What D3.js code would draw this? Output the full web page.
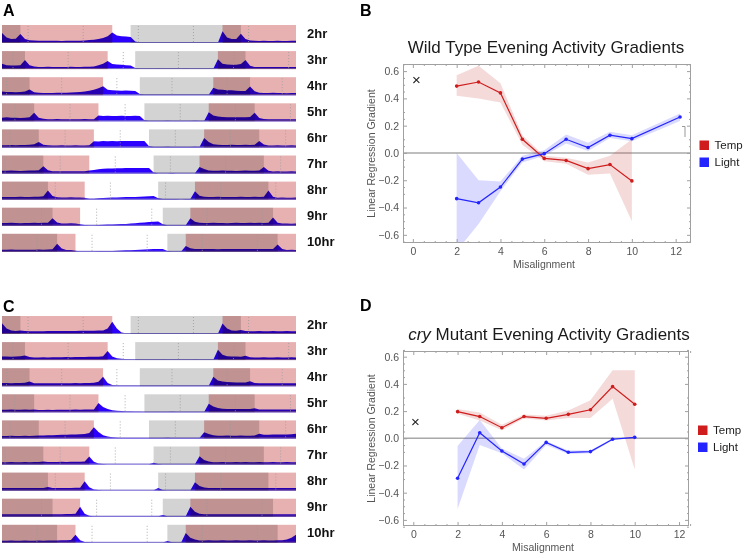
<!DOCTYPE html>
<html>
<head>
<meta charset="utf-8">
<script src="https://cdn.jsdelivr.net/npm/d3@7"></script>
<style>
body { margin: 0; background: #fff; }
svg { display: block; font-family: "Liberation Sans", Arial, sans-serif; }
</style>
</head>
<body>
<svg id="fig" width="744" height="558"></svg>
<script>
// ---- actogram data (activity in % of row height, every 0.5 h from 0 to 32 h) ----
const misalign = [2, 3, 4, 5, 6, 7, 8, 9, 10];
const rowLabels = ["2hr", "3hr", "4hr", "5hr", "6hr", "7hr", "8hr", "9hr", "10hr"];
const gridOffsets = [2.84, 1.2, 0.5, 1.4, 0.87, 0.33, 5.8, 4.3, 3.8];

const wtActivity = [
  [55,30,22,24,50,22,15,14,13,12, 12,13,12,11,12,12,13,13,14,16, 18,22,28,38,58,42,38,36,34,8, 3, 2,2,3,2,2,2,2,3,2,2,2,2,2,3,2,2,2, 65,30,22,22,52,22,14,12, 11,12,11,11,12,11,11,12,12],
  [30,22,20,20,22,50,22,15, 12,12,13,12,11,12,12,13,12,12,13,13, 15,22,30,45,28,25,24,22,20,6,2, 2,2,2,3,2,2,2,2,2,3,2,2,2,2,2,2, 55,30,25,24,24,28,50,18,12, 11,12,11,11,12,11,12,11,12],
  [20,18,18,17,18,20,32,16,13,12, 12,12,13,13,14,15,16,18,21,25, 30,38,50,30,27,26,25,26,25,24, 6, 2,2,2,2,3,2,2,2,2,2,3,2,2,2,2, 42,32,30,28,27,25,24,24,48,22,14, 12,12,13,12,12,11,12,12],
  [20,22,20,20,19,20,22,48,20,14, 12,12,13,12,12,11,12,12,13,12,12, 32,30,31,30,30,31,30,30,31,30,6, 2,2,2,2,3,2,2,2,2,2,3,2,2, 50,32,26,24,23,22,22,22,22,24,48,18,13, 12,12,11,12,12,11,12],
  [12,12,13,12,13,14,15,17,30,15,12, 11,11,12,11,11,12,11,11,12, 34,33,35,34,35,34,35,36,35,36,35,35,6, 2,2,2,3,2,2,2,2,2,3,2, 52,30,18,15, 14,14,15,14,14,15,14,15, 36,16, 11,11,12,11,11,12,11],
  [15,15,16,15,14,15,16,16,18, 40,18,12, 12,12,13,12,12,12,13, 16,20,24,26,28,28,29,29,30,30,30,31,30,30,6, 2,2,2,3,2,2,2,2,2, 36,25,17, 15,15,16,15,15,14,15,16,15,15,16, 36,15, 11,12,11,11,12,11],
  [15,15,14,15,16,15,15,16,16,18, 50,20,13, 12,12,13,12,12, 10,5,5,7,9,10,11,12,13,14,14,15,16,17,18,20,8, 3,3,3,3,2,3,3, 46,22,16, 15,15,16,15,15,14,15,16,15,15,16,15,16, 50,16, 10,11,10,10,11],
  [15,15,16,15,14,15,15,16,15,16,17, 42,18, 12,12,13,12, 8,4,3,3,4,5,6,7,8,9,10,12,14,16,18,20,22,24,8, 2,2,2,3,2, 42,22,16, 15,15,16,15,15,14,15,16,15,15,16,15,16,15,16, 45,16, 12,12,11,12],
  [12,12,13,12,12,11,12,12,13,12,13,14, 45,18,10,10, 6,3,3,3,3,4,4,5,5,6,7,8,9,10,12,13,14,15,15,16,5, 2,2,2, 32,20, 15,15,16,15,15,14,15,16,15,15,16,15,16,15,16,15,15,16, 40,15, 10,11,10]
];

const cryActivity = [
  [60,30,20,17,20,16, 15,15,15,15,16,16,16,16,17,17,17,18,18,18, 18,19,20,30,68,30,8,4,2, 2,2,2,2,2,3,2,2,2,2,2,2,3,2,2,2,2,2,2, 58,30,20,18,22,16, 15,15,16,15,15,16,15,15,16,15,15],
  [20,20,19,20,21, 26,17, 15,15,16,15,16,16,16,17,16,17,17,17,18,18,18, 22,50,20,10,7,5,4,2, 2,2,2,2,2,3,2,2,2,2,2,2,3,2,2,2,2, 58,30,22,20,20,19,24,16, 15,15,16,15,15,16,15,15,16,15],
  [18,18,17,18,18,19, 26,17, 16,16,16,17,16,17,17,17,18,17,18,18,19, 25,52,18,6,4, 3,3,3,3,3, 2,2,2,2,2,2,3,2,2,2,2,2,2,3,2, 52,32,26,24,22,21,20,20,28,18, 16,16,17,16,16,17,16,16,17],
  [14,14,15,14,14,15,14, 16, 13,13,14,13,14,14,14,14,15,14,15,15,15, 52,30,18,12,9,7,5,4,3,3,2, 2,2,2,2,2,3,2,2,2,2,2,2,2, 48,32,24,20,19, 18,18,18,18,18, 22,16, 15,15,16,15,15,16,15,16],
  [14,14,15,14,14,15,14,15, 16, 16,17,18,19,20,20,21,22,23,24, 30,62,35,18,10,6,4, 2,2,2,2,2,2,2, 2,2,2,3,2,2,2,2,2,2,2, 34,24,18, 15,15,16,15,15,16,15,15,16, 26, 20,20,21,21,22,22,23,26],
  [13,13,14,13,13,14,13,14,14,16,14,14,14,15,14,15,15,15,16, 45,15,6,3, 2,2,2,2,2,2,2,2,2,2, 10,3, 2,2,2,2,2,2,2,2, 46,25,16, 13,13,14,13,13,14,13,14,13,13,14,13,13,14,13,13,14,13,13],
  [14,14,15,14,14,14,15,14,14,15,20,15,14,15,15,15,16,16, 52,18,6,3, 2,2,2,2,2,2,2,2,2,2,2,2, 14,3, 2,2,2,2,2,2, 46,26,17, 14,14,15,14,14,15,14,14,15,14,14,15,14,14,15,14,14,15,14,14],
  [13,13,14,13,13,14,13,13,14,13,14,14,14,14,15,15,16, 55,16,5,3, 2,2,2,2,2,2,2,2,2,2,2,2,2,2, 10,3, 2,2,2,2, 55,28,17, 13,13,14,13,13,14,13,13,14,13,13,14,13,13,14,13,13,14,13,13,14],
  [12,12,13,12,12,13,12,12,13,12,13,13,13,14,14,15, 45,14,4,3, 2,2,2,2,2,2,2,2,2,2,2,2,2,2,2,2, 10,3, 2,2, 55,28,18, 13,13,14,13,13,14,13,13,14,13,13,14,13,13,14,13,13,14,14,18,28, 45]
];

// ---- gradient panels data ----
const gradX = [2, 3, 4, 5, 6, 7, 8, 9, 10];

const wtTemp   = [0.49, 0.52, 0.44, 0.10, -0.04, -0.055, -0.115, -0.085, -0.205];
const wtTempHi = [0.57, 0.64, 0.51, 0.13, -0.02, -0.035, -0.07, -0.02, 0.10];
const wtTempLo = [0.42, 0.40, 0.37, 0.06, -0.06, -0.08, -0.16, -0.15, -0.50];

const wtLightX  = [2, 3, 4, 5, 6, 7, 8, 9, 10, 12.2];
const wtLight   = [-0.335, -0.365, -0.25, -0.045, -0.005, 0.10, 0.04, 0.13, 0.105, 0.264];
const wtLightHi = [0.0, -0.2, -0.21, -0.02, 0.02, 0.135, 0.075, 0.155, 0.13, 0.29];
const wtLightLo = [-0.72, -0.52, -0.28, -0.07, -0.02, 0.07, 0.015, 0.11, 0.085, 0.235];

const cryTemp   = [0.196, 0.16, 0.078, 0.16, 0.147, 0.176, 0.21, 0.38, 0.25];
const cryTempHi = [0.215, 0.19, 0.10, 0.175, 0.165, 0.205, 0.28, 0.50, 0.50];
const cryTempLo = [0.18, 0.13, 0.06, 0.145, 0.13, 0.15, 0.15, 0.29, -0.23];

const cryLight   = [-0.294, 0.041, -0.093, -0.189, -0.03, -0.103, -0.098, -0.007, 0.007];
const cryLightHi = [-0.057, 0.135, -0.075, -0.15, -0.02, -0.09, -0.088, 0.0, 0.012];
const cryLightLo = [-0.52, -0.05, -0.11, -0.23, -0.05, -0.115, -0.11, -0.015, 0.002];

const xTicks = [0, 2, 4, 6, 8, 10, 12];
const yTicks = [-0.6, -0.4, -0.2, 0, 0.2, 0.4, 0.6];

const svg = d3.select("#fig");

// ---------------- actogram panels ----------------
const rowH = 18;
const rowStep = 26.1;
const hourX = d3.scaleLinear().domain([0, 32]).range([2, 296]);
const actY = d3.scaleLinear().domain([0, 100]).range([rowH, 0]);

const actArea = d3.area()
    .x((d, j) => hourX(j * 0.5))
    .y0(rowH)
    .y1(d => actY(d))
    .curve(d3.curveLinear);

function clampSpan(a, b) {
    const lo = Math.max(0, a), hi = Math.min(32, b);
    return hi > lo ? [lo, hi] : null;
}

function drawActogram(top, rows) {
    rows.forEach((vals, i) => {
        const m = misalign[i];
        const g = svg.append("g").attr("transform", `translate(0,${top + i * rowStep})`);

        // activity trace
        g.append("path").datum(vals)
            .attr("d", actArea)
            .attr("fill", "#2b00ff");

        // baseline
        g.append("line")
            .attr("x1", hourX(0)).attr("x2", hourX(32))
            .attr("y1", rowH - 0.5).attr("y2", rowH - 0.5)
            .attr("stroke", "#7a70c8").attr("stroke-width", 1);

        // warm phase (pink) and dark phase (grey), centred at 13 h
        const spans = [];
        [-24, 0, 24].forEach(k => {
            const w = clampSpan(1 - m / 2 + k, 13 - m / 2 + k);
            if (w) spans.push({ s: w, c: "#e8b1b1" });
            const d = clampSpan(13 + m / 2 + k, 25 + m / 2 + k);
            if (d) spans.push({ s: d, c: "#d3d3d3" });
        });
        g.selectAll("rect.shade").data(spans).enter().append("rect")
            .attr("class", "shade")
            .attr("x", d => hourX(d.s[0]))
            .attr("width", d => hourX(d.s[1]) - hourX(d.s[0]))
            .attr("y", 0)
            .attr("height", rowH)
            .attr("fill", d => d.c)
            .style("mix-blend-mode", "multiply");

        // dotted time marks
        const marks = d3.range(gridOffsets[i], 32, 6);
        g.selectAll("line.mark").data(marks).enter().append("line")
            .attr("class", "mark")
            .attr("x1", d => hourX(d)).attr("x2", d => hourX(d))
            .attr("y1", 1).attr("y2", rowH - 1)
            .attr("stroke", "#9a9a9a")
            .attr("stroke-width", 0.8)
            .attr("stroke-dasharray", "1,2");

        // label
        g.append("text")
            .attr("x", 307)
            .attr("y", 12.5)
            .attr("font-size", 13)
            .attr("font-weight", "bold")
            .attr("fill", "#111")
            .text(rowLabels[i]);
    });
}

drawActogram(25, wtActivity);
drawActogram(316, cryActivity);

// panel letters
[["A", 3, 16], ["B", 360, 16], ["C", 3, 312], ["D", 360, 311]].forEach(p => {
    svg.append("text")
        .attr("x", p[1]).attr("y", p[2])
        .attr("font-size", 16)
        .attr("font-weight", "bold")
        .attr("fill", "#000")
        .text(p[0]);
});

// ---------------- gradient panels ----------------
const red = "#cf1c1c";
const blue = "#2424ff";

function toPoints(xs, mean, hi, lo) {
    return xs.map((x, i) => ({ x: x, y: mean[i], hi: hi[i], lo: lo[i] }));
}

function drawGradient(cfg) {
    const x = d3.scaleLinear().domain(cfg.xDom).range([cfg.left, cfg.right]);
    const y = d3.scaleLinear().domain(cfg.yDom).range([cfg.bottom, cfg.top]);
    const g = svg.append("g");

    // clip to the frame
    g.append("clipPath").attr("id", cfg.id + "clip")
        .append("rect")
        .attr("x", cfg.left).attr("y", cfg.top)
        .attr("width", cfg.right - cfg.left).attr("height", cfg.bottom - cfg.top);
    const plot = g.append("g").attr("clip-path", `url(#${cfg.id}clip)`);

    const band = d3.area().x(d => x(d.x)).y0(d => y(d.lo)).y1(d => y(d.hi));
    const line = d3.line().x(d => x(d.x)).y(d => y(d.y));

    // zero line
    plot.append("line")
        .attr("x1", cfg.left).attr("x2", cfg.right)
        .attr("y1", y(0)).attr("y2", y(0))
        .attr("stroke", "#a8a8a8").attr("stroke-width", 1.4);

    const series = [
        { pts: cfg.temp, color: red, fill: "rgba(205,70,70,0.2)" },
        { pts: cfg.light, color: blue, fill: "rgba(70,70,255,0.2)" }
    ];
    series.forEach(s => {
        plot.append("path").datum(s.pts).attr("d", band).attr("fill", s.fill);
    });
    series.forEach(s => {
        plot.append("path").datum(s.pts).attr("d", line)
            .attr("fill", "none").attr("stroke", s.color).attr("stroke-width", 1.2);
        plot.selectAll(null).data(s.pts).enter().append("circle")
            .attr("cx", d => x(d.x)).attr("cy", d => y(d.y))
            .attr("r", 1.8).attr("fill", s.color);
    });

    // frame
    g.append("rect")
        .attr("x", cfg.left + 0.5).attr("y", cfg.top + 0.5)
        .attr("width", cfg.right - cfg.left - 1).attr("height", cfg.bottom - cfg.top - 1)
        .attr("fill", "none").attr("stroke", "#a0a0a0").attr("stroke-width", 1);

    // frame ticks
    const xMinor = d3.range(0, 12.6, 0.5).filter(v => v % 2 !== 0);
    const yMinor = d3.range(-13, 14).map(v => v * 0.05).filter(v => Math.abs(Math.round(v * 10)) % 2 !== 0 || Math.abs(v * 20) % 2 === 1);
    const styleAxis = a => {
        a.select(".domain").remove();
        a.selectAll("line").attr("stroke", "#a0a0a0");
        a.selectAll("text").attr("fill", "#555").attr("font-size", 10.5)
            .attr("font-family", "'Liberation Sans', Arial, sans-serif");
    };
    g.append("g").attr("transform", `translate(0,${cfg.bottom})`)
        .call(d3.axisBottom(x).tickValues(xTicks).tickSize(-4).tickPadding(5).tickFormat(d3.format("d")))
        .call(styleAxis);
    g.append("g").attr("transform", `translate(0,${cfg.bottom})`)
        .call(d3.axisBottom(x).tickValues(xMinor).tickSize(-2).tickFormat(""))
        .call(styleAxis);
    g.append("g").attr("transform", `translate(0,${cfg.top})`)
        .call(d3.axisTop(x).tickValues(xTicks).tickSize(-4).tickFormat(""))
        .call(styleAxis);
    g.append("g").attr("transform", `translate(0,${cfg.top})`)
        .call(d3.axisTop(x).tickValues(xMinor).tickSize(-2).tickFormat(""))
        .call(styleAxis);
    g.append("g").attr("transform", `translate(${cfg.left},0)`)
        .call(d3.axisLeft(y).tickValues(yTicks).tickSize(-4).tickPadding(4).tickFormat(d3.format(".1f")))
        .call(styleAxis);
    g.append("g").attr("transform", `translate(${cfg.left},0)`)
        .call(d3.axisLeft(y).tickValues(yMinor).tickSize(-2).tickFormat(""))
        .call(styleAxis);
    g.append("g").attr("transform", `translate(${cfg.right},0)`)
        .call(d3.axisRight(y).tickValues(yTicks).tickSize(-4).tickFormat(""))
        .call(styleAxis);
    g.append("g").attr("transform", `translate(${cfg.right},0)`)
        .call(d3.axisRight(y).tickValues(yMinor).tickSize(-2).tickFormat(""))
        .call(styleAxis);

    // axis labels
    g.append("text")
        .attr("x", (cfg.left + cfg.right) / 2 - 3)
        .attr("y", cfg.bottom + 25)
        .attr("text-anchor", "middle")
        .attr("font-size", 10.5).attr("fill", "#555")
        .text("Misalignment");
    g.append("text")
        .attr("transform", `translate(375,${(cfg.top + cfg.bottom) / 2}) rotate(-90)`)
        .attr("text-anchor", "middle")
        .attr("font-size", 10.5).attr("fill", "#555")
        .text("Linear Regression Gradient");

    // title
    const t = g.append("text")
        .attr("x", cfg.titleX).attr("y", cfg.titleY)
        .attr("text-anchor", "middle")
        .attr("font-size", 17).attr("fill", "#1a1a1a");
    cfg.title.forEach(part => {
        t.append("tspan").attr("font-style", part[1] ? "italic" : "normal").text(part[0]);
    });

    // cross marker
    g.append("text")
        .attr("x", cfg.cross[0]).attr("y", cfg.cross[1] + 5)
        .attr("text-anchor", "middle")
        .attr("font-size", 15).attr("fill", "#222")
        .text("×");

    // legend
    [["Temp", red], ["Light", blue]].forEach((d, i) => {
        g.append("rect")
            .attr("x", cfg.legend[0]).attr("y", cfg.legend[1] + i * 17)
            .attr("width", 9.5).attr("height", 9.5)
            .attr("fill", d[1]);
        g.append("text")
            .attr("x", cfg.legend[0] + 15).attr("y", cfg.legend[1] + i * 17 + 8.5)
            .attr("font-size", 11.5).attr("fill", "#222")
            .text(d[0]);
    });
    return g;
}

const gB = drawGradient({
    id: "b", left: 403, right: 691, top: 64, bottom: 243,
    xDom: [-0.45, 12.7], yDom: [-0.66, 0.652],
    temp: toPoints(gradX, wtTemp, wtTempHi, wtTempLo),
    light: toPoints(wtLightX, wtLight, wtLightHi, wtLightLo),
    title: [["Wild Type Evening Activity Gradients", false]],
    titleX: 546, titleY: 53,
    cross: [416.5, 79.5],
    legend: [699.5, 140.5]
});
// small bracket mark near the right frame
gB.append("path")
    .attr("d", "M682,126.5H685V137")
    .attr("fill", "none").attr("stroke", "#999").attr("stroke-width", 1);

drawGradient({
    id: "d", left: 403, right: 689, top: 351, bottom: 526,
    xDom: [-0.465, 12.45], yDom: [-0.645, 0.642],
    temp: toPoints(gradX, cryTemp, cryTempHi, cryTempLo),
    light: toPoints(gradX, cryLight, cryLightHi, cryLightLo),
    title: [["cry", true], [" Mutant Evening Activity Gradients", false]],
    titleX: 549, titleY: 340,
    cross: [415.5, 421.5],
    legend: [698, 425.5]
});
</script>
</body>
</html>
